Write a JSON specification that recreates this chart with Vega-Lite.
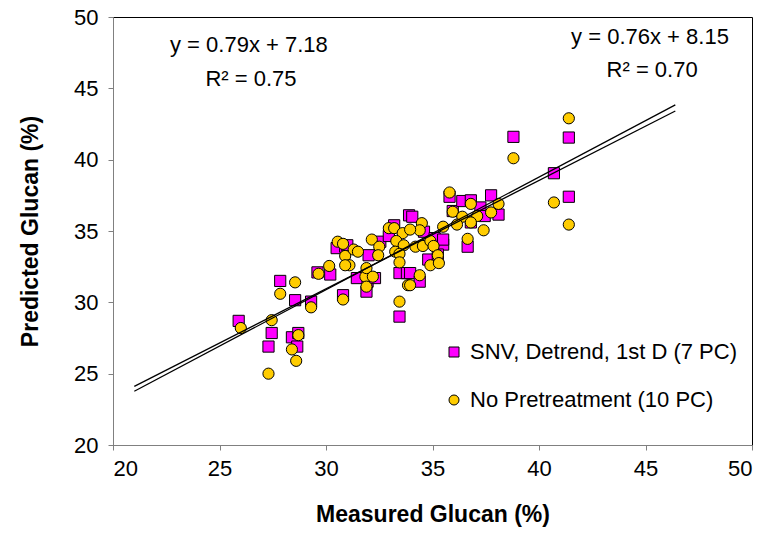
{
  "$schema": "https://vega.github.io/schema/vega-lite/v6.json",
  "autosize": "none",
  "width": 639,
  "height": 428,
  "padding": {"left": 113, "top": 17, "right": 17, "bottom": 113},
  "background": "white",
  "config": {
    "font": "Liberation Sans",
    "view": {"stroke": "#000000", "strokeWidth": 1},
    "axis": {
      "domainColor": "#808080",
      "tickColor": "#808080",
      "tickSize": 5,
      "grid": false,
      "labelFont": "Liberation Sans",
      "labelFontSize": 22,
      "labelColor": "#000000",
      "titleFont": "Liberation Sans",
      "titleFontSize": 23,
      "titleFontWeight": "bold",
      "titleColor": "#000000"
    }
  },
  "datasets": {
    "points": [
      {"series": "SNV, Detrend, 1st D (7 PC)", "measured": 25.9, "predicted": 28.7},
      {"series": "SNV, Detrend, 1st D (7 PC)", "measured": 27.3, "predicted": 26.9},
      {"series": "SNV, Detrend, 1st D (7 PC)", "measured": 27.45, "predicted": 27.85},
      {"series": "SNV, Detrend, 1st D (7 PC)", "measured": 27.85, "predicted": 31.5},
      {"series": "SNV, Detrend, 1st D (7 PC)", "measured": 28.4, "predicted": 27.55},
      {"series": "SNV, Detrend, 1st D (7 PC)", "measured": 28.55, "predicted": 30.15},
      {"series": "SNV, Detrend, 1st D (7 PC)", "measured": 28.65, "predicted": 26.9},
      {"series": "SNV, Detrend, 1st D (7 PC)", "measured": 28.7, "predicted": 27.85},
      {"series": "SNV, Detrend, 1st D (7 PC)", "measured": 29.3, "predicted": 30.05},
      {"series": "SNV, Detrend, 1st D (7 PC)", "measured": 29.6, "predicted": 32.1},
      {"series": "SNV, Detrend, 1st D (7 PC)", "measured": 30.2, "predicted": 31.95},
      {"series": "SNV, Detrend, 1st D (7 PC)", "measured": 30.8, "predicted": 30.5},
      {"series": "SNV, Detrend, 1st D (7 PC)", "measured": 30.5, "predicted": 33.8},
      {"series": "SNV, Detrend, 1st D (7 PC)", "measured": 30.9, "predicted": 33.9},
      {"series": "SNV, Detrend, 1st D (7 PC)", "measured": 31.0, "predicted": 34.0},
      {"series": "SNV, Detrend, 1st D (7 PC)", "measured": 31.45, "predicted": 31.7},
      {"series": "SNV, Detrend, 1st D (7 PC)", "measured": 31.95, "predicted": 31.45},
      {"series": "SNV, Detrend, 1st D (7 PC)", "measured": 31.9, "predicted": 30.75},
      {"series": "SNV, Detrend, 1st D (7 PC)", "measured": 32.3, "predicted": 31.7},
      {"series": "SNV, Detrend, 1st D (7 PC)", "measured": 32.0, "predicted": 33.3},
      {"series": "SNV, Detrend, 1st D (7 PC)", "measured": 32.55, "predicted": 34.25},
      {"series": "SNV, Detrend, 1st D (7 PC)", "measured": 32.95, "predicted": 34.65},
      {"series": "SNV, Detrend, 1st D (7 PC)", "measured": 33.2, "predicted": 35.4},
      {"series": "SNV, Detrend, 1st D (7 PC)", "measured": 33.45, "predicted": 32.05},
      {"series": "SNV, Detrend, 1st D (7 PC)", "measured": 33.45, "predicted": 29.0},
      {"series": "SNV, Detrend, 1st D (7 PC)", "measured": 33.8, "predicted": 32.05},
      {"series": "SNV, Detrend, 1st D (7 PC)", "measured": 33.9, "predicted": 36.1},
      {"series": "SNV, Detrend, 1st D (7 PC)", "measured": 34.05, "predicted": 36.0},
      {"series": "SNV, Detrend, 1st D (7 PC)", "measured": 33.95, "predicted": 32.05},
      {"series": "SNV, Detrend, 1st D (7 PC)", "measured": 34.4, "predicted": 31.45},
      {"series": "SNV, Detrend, 1st D (7 PC)", "measured": 34.6, "predicted": 34.95},
      {"series": "SNV, Detrend, 1st D (7 PC)", "measured": 34.8, "predicted": 33.0},
      {"series": "SNV, Detrend, 1st D (7 PC)", "measured": 35.1, "predicted": 34.5},
      {"series": "SNV, Detrend, 1st D (7 PC)", "measured": 35.5, "predicted": 34.05},
      {"series": "SNV, Detrend, 1st D (7 PC)", "measured": 35.5, "predicted": 34.4},
      {"series": "SNV, Detrend, 1st D (7 PC)", "measured": 35.25, "predicted": 33.35},
      {"series": "SNV, Detrend, 1st D (7 PC)", "measured": 35.8, "predicted": 37.4},
      {"series": "SNV, Detrend, 1st D (7 PC)", "measured": 35.95, "predicted": 36.4},
      {"series": "SNV, Detrend, 1st D (7 PC)", "measured": 36.4, "predicted": 37.1},
      {"series": "SNV, Detrend, 1st D (7 PC)", "measured": 36.8, "predicted": 37.15},
      {"series": "SNV, Detrend, 1st D (7 PC)", "measured": 36.8, "predicted": 35.6},
      {"series": "SNV, Detrend, 1st D (7 PC)", "measured": 36.65, "predicted": 33.9},
      {"series": "SNV, Detrend, 1st D (7 PC)", "measured": 37.25, "predicted": 36.65},
      {"series": "SNV, Detrend, 1st D (7 PC)", "measured": 37.45, "predicted": 36.05},
      {"series": "SNV, Detrend, 1st D (7 PC)", "measured": 37.75, "predicted": 37.5},
      {"series": "SNV, Detrend, 1st D (7 PC)", "measured": 38.1, "predicted": 36.15},
      {"series": "SNV, Detrend, 1st D (7 PC)", "measured": 38.8, "predicted": 41.6},
      {"series": "SNV, Detrend, 1st D (7 PC)", "measured": 40.7, "predicted": 39.05},
      {"series": "SNV, Detrend, 1st D (7 PC)", "measured": 41.4, "predicted": 41.55},
      {"series": "SNV, Detrend, 1st D (7 PC)", "measured": 41.4, "predicted": 37.4},
      {"series": "No Pretreatment (10 PC)", "measured": 26.0, "predicted": 28.2},
      {"series": "No Pretreatment (10 PC)", "measured": 27.3, "predicted": 25.0},
      {"series": "No Pretreatment (10 PC)", "measured": 27.45, "predicted": 28.75},
      {"series": "No Pretreatment (10 PC)", "measured": 27.85, "predicted": 30.6},
      {"series": "No Pretreatment (10 PC)", "measured": 28.4, "predicted": 26.7},
      {"series": "No Pretreatment (10 PC)", "measured": 28.55, "predicted": 31.4},
      {"series": "No Pretreatment (10 PC)", "measured": 28.6, "predicted": 25.9},
      {"series": "No Pretreatment (10 PC)", "measured": 28.7, "predicted": 27.7},
      {"series": "No Pretreatment (10 PC)", "measured": 29.3, "predicted": 29.65},
      {"series": "No Pretreatment (10 PC)", "measured": 29.65, "predicted": 32.0},
      {"series": "No Pretreatment (10 PC)", "measured": 30.15, "predicted": 32.55},
      {"series": "No Pretreatment (10 PC)", "measured": 30.8, "predicted": 30.2},
      {"series": "No Pretreatment (10 PC)", "measured": 30.55, "predicted": 34.25},
      {"series": "No Pretreatment (10 PC)", "measured": 30.8, "predicted": 34.1},
      {"series": "No Pretreatment (10 PC)", "measured": 30.9, "predicted": 33.25},
      {"series": "No Pretreatment (10 PC)", "measured": 31.1, "predicted": 32.6},
      {"series": "No Pretreatment (10 PC)", "measured": 31.3, "predicted": 33.7},
      {"series": "No Pretreatment (10 PC)", "measured": 31.5, "predicted": 33.55},
      {"series": "No Pretreatment (10 PC)", "measured": 30.9, "predicted": 32.6},
      {"series": "No Pretreatment (10 PC)", "measured": 31.85, "predicted": 31.8},
      {"series": "No Pretreatment (10 PC)", "measured": 31.9, "predicted": 32.4},
      {"series": "No Pretreatment (10 PC)", "measured": 31.9, "predicted": 31.1},
      {"series": "No Pretreatment (10 PC)", "measured": 32.2, "predicted": 31.8},
      {"series": "No Pretreatment (10 PC)", "measured": 32.15, "predicted": 34.4},
      {"series": "No Pretreatment (10 PC)", "measured": 32.5, "predicted": 33.9},
      {"series": "No Pretreatment (10 PC)", "measured": 32.45, "predicted": 33.3},
      {"series": "No Pretreatment (10 PC)", "measured": 32.95, "predicted": 35.2},
      {"series": "No Pretreatment (10 PC)", "measured": 33.2, "predicted": 35.2},
      {"series": "No Pretreatment (10 PC)", "measured": 33.6, "predicted": 34.85},
      {"series": "No Pretreatment (10 PC)", "measured": 33.3, "predicted": 34.3},
      {"series": "No Pretreatment (10 PC)", "measured": 33.65, "predicted": 34.0},
      {"series": "No Pretreatment (10 PC)", "measured": 33.25, "predicted": 33.55},
      {"series": "No Pretreatment (10 PC)", "measured": 33.45, "predicted": 33.4},
      {"series": "No Pretreatment (10 PC)", "measured": 33.45, "predicted": 32.8},
      {"series": "No Pretreatment (10 PC)", "measured": 33.85, "predicted": 31.2},
      {"series": "No Pretreatment (10 PC)", "measured": 33.45, "predicted": 30.05},
      {"series": "No Pretreatment (10 PC)", "measured": 34.5, "predicted": 35.55},
      {"series": "No Pretreatment (10 PC)", "measured": 34.4, "predicted": 35.05},
      {"series": "No Pretreatment (10 PC)", "measured": 33.95, "predicted": 35.1},
      {"series": "No Pretreatment (10 PC)", "measured": 34.2, "predicted": 33.9},
      {"series": "No Pretreatment (10 PC)", "measured": 34.55, "predicted": 33.95},
      {"series": "No Pretreatment (10 PC)", "measured": 34.9, "predicted": 34.3},
      {"series": "No Pretreatment (10 PC)", "measured": 35.05, "predicted": 33.95},
      {"series": "No Pretreatment (10 PC)", "measured": 35.5, "predicted": 35.3},
      {"series": "No Pretreatment (10 PC)", "measured": 35.25, "predicted": 33.3},
      {"series": "No Pretreatment (10 PC)", "measured": 34.9, "predicted": 32.6},
      {"series": "No Pretreatment (10 PC)", "measured": 35.3, "predicted": 32.75},
      {"series": "No Pretreatment (10 PC)", "measured": 34.4, "predicted": 31.9},
      {"series": "No Pretreatment (10 PC)", "measured": 33.95, "predicted": 31.2},
      {"series": "No Pretreatment (10 PC)", "measured": 35.8, "predicted": 37.7},
      {"series": "No Pretreatment (10 PC)", "measured": 35.95, "predicted": 36.35},
      {"series": "No Pretreatment (10 PC)", "measured": 36.4, "predicted": 36.0},
      {"series": "No Pretreatment (10 PC)", "measured": 36.8, "predicted": 36.9},
      {"series": "No Pretreatment (10 PC)", "measured": 37.1, "predicted": 36.05},
      {"series": "No Pretreatment (10 PC)", "measured": 37.75, "predicted": 36.3},
      {"series": "No Pretreatment (10 PC)", "measured": 38.1, "predicted": 36.9},
      {"series": "No Pretreatment (10 PC)", "measured": 36.8, "predicted": 35.6},
      {"series": "No Pretreatment (10 PC)", "measured": 36.15, "predicted": 35.45},
      {"series": "No Pretreatment (10 PC)", "measured": 37.4, "predicted": 35.05},
      {"series": "No Pretreatment (10 PC)", "measured": 36.65, "predicted": 34.45},
      {"series": "No Pretreatment (10 PC)", "measured": 38.8, "predicted": 40.1},
      {"series": "No Pretreatment (10 PC)", "measured": 40.7, "predicted": 37.0},
      {"series": "No Pretreatment (10 PC)", "measured": 41.4, "predicted": 35.45},
      {"series": "No Pretreatment (10 PC)", "measured": 41.4, "predicted": 42.9}
    ],
    "trend": [
      {"fit": "SNV", "measured": 21.0, "predicted": 23.77},
      {"fit": "SNV", "measured": 46.4, "predicted": 43.84},
      {"fit": "None", "measured": 21.0, "predicted": 24.11},
      {"fit": "None", "measured": 46.4, "predicted": 43.41}
    ],
    "note": [{}]
  },
  "layer": [
    {
      "data": {"name": "points"},
      "mark": {"type": "point", "filled": true, "stroke": "#000000", "strokeWidth": 1, "opacity": 1},
      "encoding": {
        "x": {
          "field": "measured", "type": "quantitative",
          "scale": {"domain": [20, 50], "nice": false, "zero": false},
          "axis": {"values": [20, 25, 30, 35, 40, 45, 50], "title": "Measured Glucan (%)", "labelPadding": 8, "titlePadding": 24}
        },
        "y": {
          "field": "predicted", "type": "quantitative",
          "scale": {"domain": [20, 50], "nice": false, "zero": false},
          "axis": {"values": [20, 25, 30, 35, 40, 45, 50], "title": "Predicted Glucan (%)", "labelPadding": 10, "titlePadding": 31}
        },
        "color": {
          "field": "series", "type": "nominal",
          "scale": {"domain": ["SNV, Detrend, 1st D (7 PC)", "No Pretreatment (10 PC)"], "range": ["#FF00FF", "#FFCC00"]},
          "legend": {
            "title": null, "orient": "none", "legendX": 330, "legendY": 324,
            "labelFontSize": 22, "labelFont": "Liberation Sans", "labelColor": "#000000", "labelLimit": 500,
            "symbolSize": 100, "symbolStrokeColor": "#000000", "symbolStrokeWidth": 1,
            "rowPadding": 26, "labelOffset": 5
          }
        },
        "shape": {
          "field": "series", "type": "nominal",
          "scale": {"domain": ["SNV, Detrend, 1st D (7 PC)", "No Pretreatment (10 PC)"], "range": ["square", "circle"]},
          "legend": null
        },
        "size": {"value": 125}
      }
    },
    {
      "data": {"name": "trend"},
      "mark": {"type": "line", "color": "#000000", "strokeWidth": 1.3},
      "encoding": {
        "x": {"field": "measured", "type": "quantitative"},
        "y": {"field": "predicted", "type": "quantitative"},
        "detail": {"field": "fit", "type": "nominal"}
      }
    },
    {
      "data": {"name": "note"},
      "mark": {"type": "text", "text": "y = 0.79x + 7.18", "fontSize": 22, "font": "Liberation Sans", "align": "center", "baseline": "middle", "color": "#000000"},
      "encoding": {"x": {"datum": 26.38}, "y": {"datum": 48.04}}
    },
    {
      "data": {"name": "note"},
      "mark": {"type": "text", "text": "R² = 0.75", "fontSize": 22, "font": "Liberation Sans", "align": "center", "baseline": "middle", "color": "#000000"},
      "encoding": {"x": {"datum": 26.48}, "y": {"datum": 45.66}}
    },
    {
      "data": {"name": "note"},
      "mark": {"type": "text", "text": "y = 0.76x + 8.15", "fontSize": 22, "font": "Liberation Sans", "align": "center", "baseline": "middle", "color": "#000000"},
      "encoding": {"x": {"datum": 45.21}, "y": {"datum": 48.6}}
    },
    {
      "data": {"name": "note"},
      "mark": {"type": "text", "text": "R² = 0.70", "fontSize": 22, "font": "Liberation Sans", "align": "center", "baseline": "middle", "color": "#000000"},
      "encoding": {"x": {"datum": 45.31}, "y": {"datum": 46.29}}
    }
  ]
}
